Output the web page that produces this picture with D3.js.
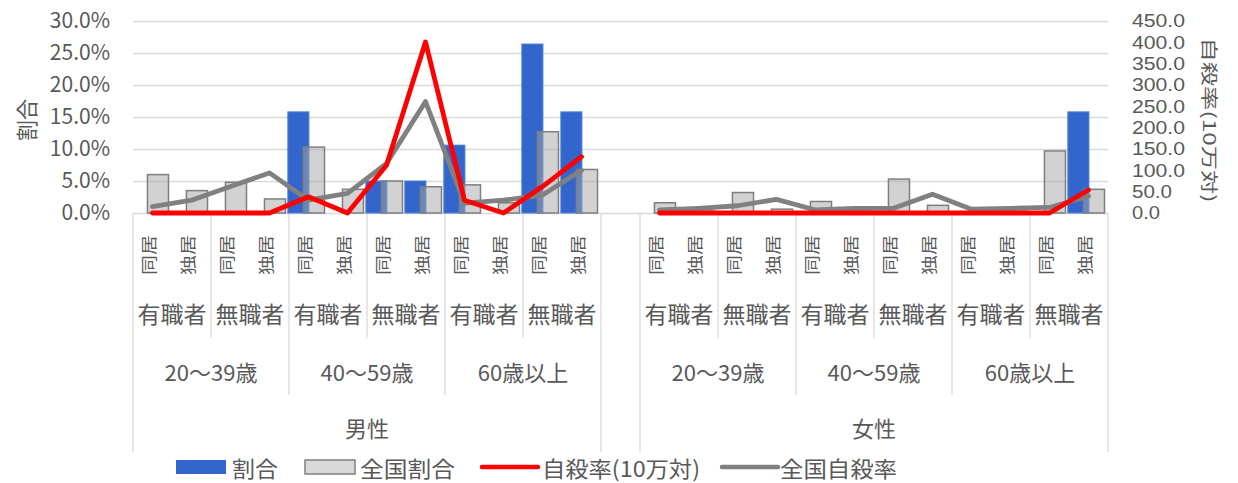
<!DOCTYPE html>
<html lang="ja">
<head>
<meta charset="utf-8">
<script src="https://cdn.jsdelivr.net/npm/d3@7"></script>
<style>
  html, body { margin: 0; padding: 0; background: #fff; }
  svg { display: block; }
  text { font-family: "Noto Sans CJK JP", "Noto Sans", sans-serif; fill: #595959; }
</style>
</head>
<body>
<svg id="chart" width="1238" height="483"></svg>
<script>
// Category hierarchy: 性別 > 年齢層 > 職業 > 同居・独居
const sexes = ["男性", "女性"];
const ageGroups = ["20～39歳", "40～59歳", "60歳以上"];
const jobs = ["有職者", "無職者"];
const living = ["同居", "独居"];

// Series values (null = blank spacer column between 男性 and 女性)
const share = [0, 0, 0, 0, 15.8, 0, 5.0, 5.0, 10.6, 0, 26.4, 15.8, null,
               0, 0, 0, 0, 0, 0, 0, 0, 0, 0, 0, 15.8];              // 割合 (%)
const nationalShare = [6.0, 3.5, 4.8, 2.2, 10.3, 3.7, 5.0, 4.1, 4.4, 1.6, 12.7, 6.8, null,
                       1.6, 0.3, 3.2, 0.6, 1.8, 0.3, 5.3, 1.2, 0.2, 0.3, 9.7, 3.7]; // 全国割合 (%)
const rate = [0, 0, 0, 0, 38, 0, 112, 401, 30, 0, 62, 132, null,
              0, 0, 0, 0, 0, 0, 0, 0, 0, 0, 0, 54];                 // 自殺率(10万対)
const nationalRate = [15, 30, 62, 94, 30, 46, 116, 261, 23, 30, 42, 100, null,
                      7, 11, 17, 32, 7, 11, 11, 44, 9, 11, 13, 40];  // 全国自殺率

const leftTicks = [0, 5, 10, 15, 20, 25, 30];
const rightTicks = [0, 50, 100, 150, 200, 250, 300, 350, 400, 450];

const legendItems = [
  { name: "割合", kind: "bar" },
  { name: "全国割合", kind: "barNat" },
  { name: "自殺率(10万対)", kind: "line" },
  { name: "全国自殺率", kind: "lineNat" }
];

// build flat category list with one spacer between the two sexes
const categories = [];
sexes.forEach((s, si) => {
  if (si > 0) categories.push(null);
  ageGroups.forEach(a => jobs.forEach(j => living.forEach(l =>
    categories.push({ sex: s, age: a, job: j, live: l }))));
});

const colors = {
  blue: "#3366cc", blueEdge: "#4a7fd6",
  grayFill: "#a6a6a6", grayEdge: "#7f7f7f",
  red: "#ff0000", grayLine: "#808080",
  grid: "#d9d9d9", text: "#595959"
};

const svg = d3.select("#chart");
const plot = { left: 133, right: 1108, top: 21, bottom: 213 };

const x = d3.scaleBand().domain(d3.range(categories.length)).range([plot.left, plot.right]);
const yL = d3.scaleLinear().domain([0, 30]).range([plot.bottom, plot.top]);
const yR = d3.scaleLinear().domain([0, 450]).range([plot.bottom, plot.top]);
const bw = x.bandwidth();
const barW = bw * 0.54;
const cx = i => x(i) + bw / 2;

// gridlines
svg.append("g")
  .attr("transform", `translate(${plot.left},0)`)
  .call(d3.axisLeft(yL).tickValues(leftTicks).tickSize(-(plot.right - plot.left)).tickFormat(""))
  .call(g => g.select(".domain").remove())
  .call(g => g.selectAll("line").attr("stroke", colors.grid).attr("stroke-width", 1.3));

// left axis labels
svg.append("g")
  .attr("transform", `translate(${plot.left},0)`)
  .call(d3.axisLeft(yL).tickValues(leftTicks).tickSize(0).tickPadding(23)
        .tickFormat(d => d3.format(".1f")(d) + "%"))
  .call(g => g.select(".domain").remove())
  .call(g => g.selectAll("text").attr("font-size", 21).attr("fill", colors.text)
        .style("font-family", '"Noto Sans CJK JP", sans-serif'));

// right axis labels (tightly packed, compact line box)
svg.append("g")
  .attr("transform", `translate(${plot.right},0)`)
  .call(d3.axisRight(yR).tickValues(rightTicks).tickSize(0).tickPadding(24)
        .tickFormat(d3.format(".1f")))
  .call(g => g.select(".domain").remove())
  .call(g => g.selectAll("text").attr("font-size", 18).attr("fill", colors.text)
        .attr("textLength", d => d >= 100 ? 53 : d >= 10 ? 40 : 28)
        .attr("lengthAdjust", "spacingAndGlyphs")
        .style("font-family", '"Liberation Sans", Arial, sans-serif'));

// axis titles
svg.append("text")
  .attr("transform", "translate(25,120) rotate(-90)")
  .attr("text-anchor", "middle").attr("dominant-baseline", "central")
  .attr("font-size", 22).attr("textLength", 42).attr("lengthAdjust", "spacingAndGlyphs")
  .text("割合");
svg.append("text")
  .attr("transform", "translate(1210,120) rotate(90)")
  .attr("text-anchor", "middle").attr("dominant-baseline", "central")
  .attr("font-size", 17).attr("textLength", 165).attr("lengthAdjust", "spacingAndGlyphs")
  .text("自殺率(10万対)");

// category separators for each level
const sepG = svg.append("g").attr("stroke", colors.grid).attr("stroke-width", 1.3);
function sep(xPos, yEnd) {
  sepG.append("line").attr("x1", xPos).attr("x2", xPos)
    .attr("y1", plot.bottom).attr("y2", yEnd);
}
const groups = [[0, 12], [13, 25]];
groups.forEach(([s, e]) => {
  for (let i = s; i <= e; i += 2) {
    const xp = i < e ? x(i) : x(e - 1) + bw;
    const rel = i - s;
    let yEnd = 338;
    if (rel % 4 === 0) yEnd = 395;
    if (rel === 0 || rel === 12) yEnd = 452;
    sep(xp, yEnd);
  }
});

// category labels
const labelG = svg.append("g");
categories.forEach((c, i) => {
  if (!c) return;
  labelG.append("text")
    .attr("transform", `translate(${cx(i) - 5},255) rotate(-90)`)
    .attr("text-anchor", "middle").attr("dominant-baseline", "central")
    .attr("font-size", 16).attr("textLength", 40).attr("lengthAdjust", "spacingAndGlyphs")
    .text(c.live);
});
groups.forEach(([s, e], gi) => {
  for (let k = 0; k < 6; k++) {
    const i0 = s + k * 2;
    labelG.append("text")
      .attr("x", x(i0) + bw).attr("y", 313)
      .attr("text-anchor", "middle").attr("dominant-baseline", "central")
      .attr("font-size", 23).text(categories[i0].job);
  }
  for (let k = 0; k < 3; k++) {
    const i0 = s + k * 4;
    labelG.append("text")
      .attr("x", x(i0) + bw * 2).attr("y", 371)
      .attr("text-anchor", "middle").attr("dominant-baseline", "central")
      .attr("font-size", 22).text(categories[i0].age);
  }
  labelG.append("text")
    .attr("x", x(s) + bw * 6).attr("y", 427)
    .attr("text-anchor", "middle").attr("dominant-baseline", "central")
    .attr("font-size", 22).text(categories[s].sex);
});

// bars
const barG = svg.append("g");
barG.selectAll("rect.share")
  .data(share.map((v, i) => ({ v, i })).filter(d => d.v != null && d.v > 0))
  .join("rect").attr("class", "share")
  .attr("x", d => x(d.i) + bw / 2 - barW * 0.98)
  .attr("width", barW)
  .attr("y", d => yL(d.v))
  .attr("height", d => yL(0) - yL(d.v))
  .attr("fill", colors.blue).attr("stroke", colors.blueEdge).attr("stroke-width", 1);

barG.selectAll("rect.nat")
  .data(nationalShare.map((v, i) => ({ v, i })).filter(d => d.v != null))
  .join("rect").attr("class", "nat")
  .attr("x", d => x(d.i) + bw / 2 - barW * 0.24)
  .attr("width", barW)
  .attr("y", d => yL(d.v))
  .attr("height", d => yL(0) - yL(d.v))
  .attr("fill", colors.grayFill).attr("fill-opacity", 0.5)
  .attr("stroke", colors.grayEdge).attr("stroke-width", 1.5);

// lines
const line = d3.line()
  .defined(d => d != null)
  .x((d, i) => cx(i))
  .y(d => yR(d));

svg.append("path").datum(nationalRate)
  .attr("d", line).attr("fill", "none")
  .attr("stroke", colors.grayLine).attr("stroke-width", 4.8)
  .attr("stroke-linejoin", "round").attr("stroke-linecap", "round");
svg.append("path").datum(rate)
  .attr("d", line).attr("fill", "none")
  .attr("stroke", colors.red).attr("stroke-width", 4.8)
  .attr("stroke-linejoin", "round").attr("stroke-linecap", "round");

// legend
const legendPos = [
  { sx: 176, tx: 232 },
  { sx: 305, tx: 360 },
  { sx: 482, tx: 542 },
  { sx: 722, tx: 780 }
];
const legendLen = [46, 95, 158, 117];
const lg = svg.append("g");
legendItems.forEach((it, k) => {
  const p = legendPos[k];
  if (it.kind === "bar") {
    lg.append("rect").attr("x", p.sx).attr("y", 460).attr("width", 50).attr("height", 14)
      .attr("fill", colors.blue);
  } else if (it.kind === "barNat") {
    lg.append("rect").attr("x", p.sx).attr("y", 460).attr("width", 50).attr("height", 14)
      .attr("fill", "#d9d9d9").attr("stroke", colors.grayEdge).attr("stroke-width", 1.5);
  } else {
    lg.append("line").attr("x1", p.sx).attr("x2", p.sx + 56).attr("y1", 467).attr("y2", 467)
      .attr("stroke", it.kind === "line" ? colors.red : colors.grayLine)
      .attr("stroke-width", 4.5).attr("stroke-linecap", "round");
  }
  lg.append("text").attr("x", p.tx).attr("y", 467)
    .attr("dominant-baseline", "central").attr("font-size", 22)
    .attr("textLength", legendLen[k]).attr("lengthAdjust", "spacingAndGlyphs")
    .text(it.name);
});
</script>
</body>
</html>
